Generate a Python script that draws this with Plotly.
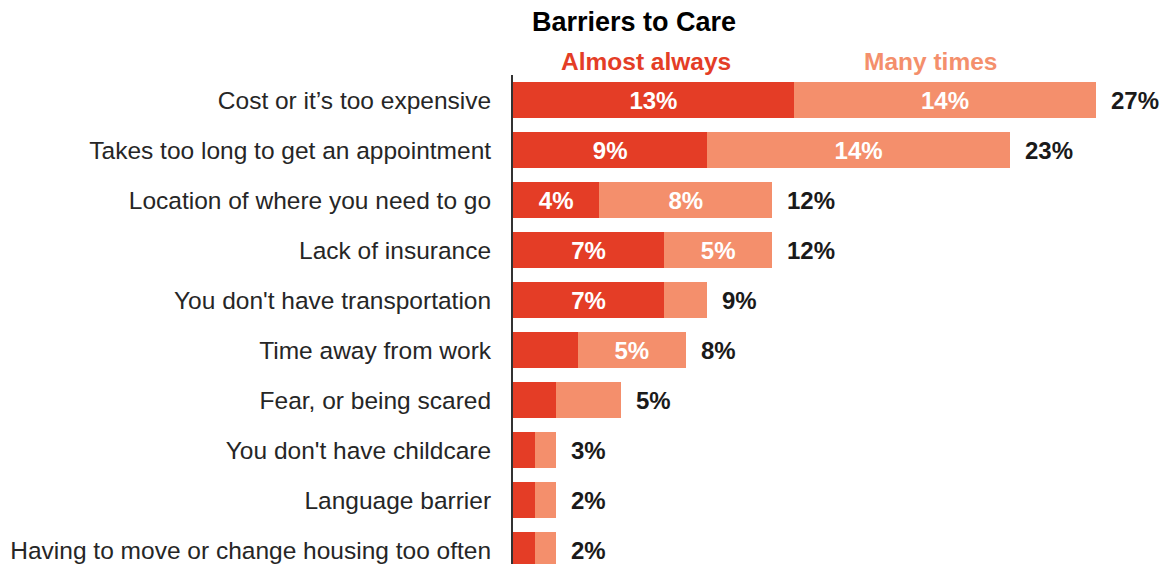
import plotly.graph_objects as go

categories = [
    "Cost or it\u2019s too expensive",
    "Takes too long to get an appointment",
    "Location of where you need to go",
    "Lack of insurance",
    "You don't have transportation",
    "Time away from work",
    "Fear, or being scared",
    "You don't have childcare",
    "Language barrier",
    "Having to move or change housing too often",
]
almost_always = [13, 9, 4, 7, 7, 3, 2, 1, 1, 1]
many_times = [14, 14, 8, 5, 2, 5, 3, 1, 1, 1]
total_labels = ["27%", "23%", "12%", "12%", "9%", "8%", "5%", "3%", "2%", "2%"]

DARK = "#E43D26"
LIGHT = "#F48F6C"
BOLD = "Liberation Sans, Arial"

W, H = 1173, 564
ML, MT = 505, 67
PH = H - MT
PX_PER_PCT = 21.6


def seg_text(vals):
    return [f"{v}%" if v >= 4 else "" for v in vals]


def paper_y(screen_y):
    fig_y = screen_y - 8
    return 1 + (MT - fig_y) / PH


fig = go.Figure()
for name, vals, col in [("Almost always", almost_always, DARK),
                        ("Many times", many_times, LIGHT)]:
    fig.add_trace(go.Bar(
        y=categories, x=vals, orientation="h", name=name,
        marker=dict(color=col, line=dict(width=0)), width=0.72,
        text=seg_text(vals), textposition="inside", insidetextanchor="middle",
        textfont=dict(color="white", size=24, family=BOLD, weight="bold"),
        hoverinfo="skip",
    ))

for cat, a, m, lab in zip(categories, almost_always, many_times, total_labels):
    fig.add_annotation(
        x=a + m, y=cat, xref="x", yref="y", text=lab, showarrow=False,
        xanchor="left", xshift=13,
        font=dict(size=24, color="#1a1a1a", family=BOLD, weight="bold"),
    )

fig.add_annotation(x=6.15, y=paper_y(61), xref="x", yref="paper",
                   text="Almost always", showarrow=False, yanchor="middle",
                   font=dict(size=24.5, color=DARK, family=BOLD, weight="bold"))
fig.add_annotation(x=19.35, y=paper_y(61), xref="x", yref="paper",
                   text="Many times", showarrow=False, yanchor="middle",
                   font=dict(size=24.5, color=LIGHT, family=BOLD, weight="bold"))
fig.add_annotation(x=5.6, y=paper_y(22), xref="x", yref="paper",
                   text="Barriers to Care", showarrow=False, yanchor="middle",
                   font=dict(size=27, color="#000000", family=BOLD, weight="bold"))

fig.update_layout(
    width=W, height=H,
    margin=dict(l=ML, r=0, t=MT, b=0),
    plot_bgcolor="white", paper_bgcolor="white",
    barmode="stack", showlegend=False,
    font=dict(family="Liberation Sans, Arial", size=24, color="#262626"),
)

fig.update_xaxes(range=[0, (W - ML) / PX_PER_PCT], visible=False,
                 showgrid=False, zeroline=False)
fig.update_yaxes(
    type="category", categoryorder="array", categoryarray=categories,
    range=[(PH / 50) - 0.5, -0.5], autorange=False,
    showline=True, linecolor="#333333", linewidth=2,
    ticks="", ticklabelstandoff=15, showgrid=False,
    tickfont=dict(size=24.5, color="#262626", family="Liberation Sans, Arial"),
)

fig.write_html("out.html")
